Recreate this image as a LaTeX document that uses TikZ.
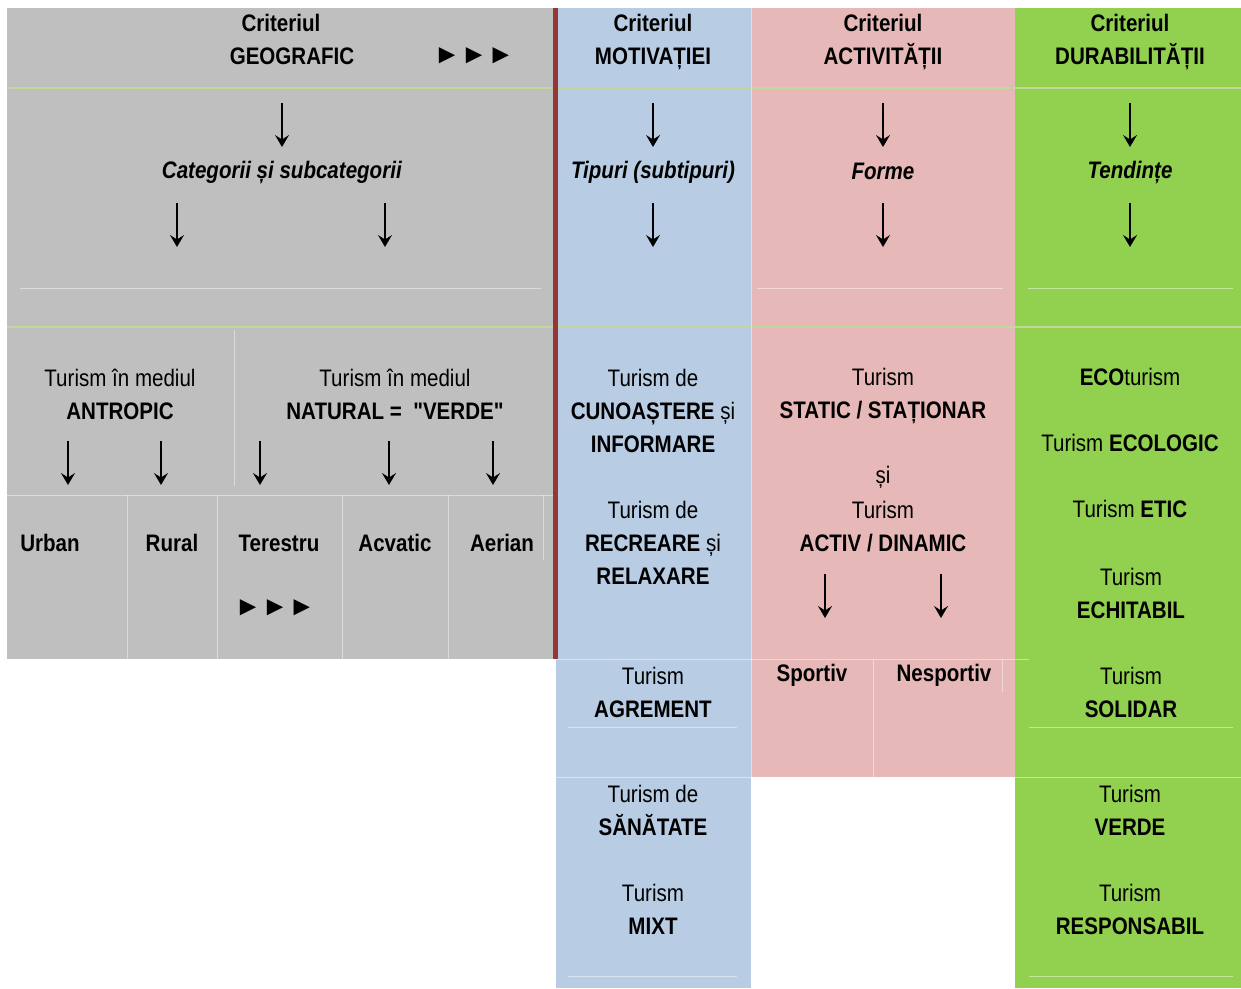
\documentclass[tikz,border=0pt]{standalone}
\usepackage{fontspec}
\setmainfont{Liberation Sans}[FakeStretch=0.86]
\newfontfamily\symfont{Liberation Sans}
\usepackage{xcolor}
\usetikzlibrary{arrows.meta,positioning}
\definecolor{geogray}{RGB}{191,191,191}
\definecolor{motblue}{RGB}{184,204,228}
\definecolor{actpink}{RGB}{230,184,183}
\definecolor{durgreen}{RGB}{146,208,80}
\definecolor{barred}{RGB}{149,55,53}
\definecolor{sepgreen}{RGB}{196,215,155}

\begin{document}
\begin{tikzpicture}[x=0.02cm,y=-0.02cm,
  lbl/.style={align=center,inner sep=0pt,font=\fontsize{13.6}{18.8}\selectfont},
  tri/.style={inner sep=0pt,font=\symfont\fontsize{15.5}{18}\selectfont},
  dn/.style={line width=0.9pt,-{Stealth[length=2.4mm,width=2.8mm,inset=0.9mm]}},
  sep/.style={draw=sepgreen,line width=1.5pt},
  faint/.style={draw=white,opacity=0.45,line width=0.5pt}]
\useasboundingbox (0,0) rectangle (1241,988);
% Columns
\fill[geogray] (7,8) rectangle (553,659); % geografic
\fill[motblue] (556,8) rectangle (751,988); % motivatiei
\fill[actpink] (751,8) rectangle (1015,777); % activitatii
\fill[durgreen] (1015,8) rectangle (1241,988); % durabilitatii
% Separators
\draw[sep] (7,88) -- (1241,88);
\draw[sep] (7,327) -- (1241,327);
\fill[barred] (553,8) rectangle (558,659); % vertical bar
% Faint cell lines
\draw[faint] (20,288) -- (541,288);
\draw[faint] (757,288) -- (1003,288);
\draw[faint] (1028,288) -- (1233,288);
\draw[faint] (234,330) -- (234,486);
\draw[faint] (7,495) -- (553,495);
\foreach \x in {127,217,342,448} \draw[faint] (\x,495) -- (\x,659);
\draw[faint] (543,495) -- (543,560);
\draw[faint] (751,8) -- (751,777);
\draw[faint] (556,659) -- (1029,659);
\draw[faint] (873,659) -- (873,777);
\draw[faint] (1002,659) -- (1002,692);
\draw[faint] (568,727) -- (737,727);
\draw[faint] (1029,727) -- (1233,727);
\draw[faint] (556,777) -- (751,777);
\draw[faint] (1015,777) -- (1241,777);
\draw[faint] (568,976) -- (737,976);
\draw[faint] (1029,976) -- (1233,976);
% Arrows
\foreach \n/\x/\y in {1/282/103,2/653/103,3/883/103,4/1130/103,
    5/177/203,6/385/203,7/653/203,8/883/203,9/1130/203,
    10/68/441,11/161/441,12/260/441,13/389/441,14/493/441,
    15/825/574,16/941/574}{
  \coordinate (a\n t) at (\x,\y);
  \coordinate (a\n b) at (\x,\y+44);
  \draw[dn] (a\n t) -- (a\n b);
}
% Headers
\node[lbl] (crgeo) at (281,23) {\textbf{Criteriul}};
\node[lbl] (geo) at (292,56) {\textbf{GEOGRAFIC}};
\node[tri] (geoarr) at (474,56) {►►►};
\node[lbl] (mot) at (653,42) {\textbf{Criteriul}\\\textbf{MOTIVAȚIEI}};
\node[lbl] (act) at (883,42) {\textbf{Criteriul}\\\textbf{ACTIVITĂȚII}};
\node[lbl] (dur) at (1130,42) {\textbf{Criteriul}\\\textbf{DURABILITĂȚII}};
% Subheaders
\node[lbl] (cat) at (282,172) {\textbf{\itshape Categorii și subcategorii}};
\node[lbl] (tip) at (653,172) {\textbf{\itshape Tipuri (subtipuri)}};
\node[lbl] (forme) at (883,171) {\textbf{\itshape Forme}};
\node[lbl] (tend) at (1130,172) {\textbf{\itshape Tendințe}};
% Geografic
\node[lbl] (antr) at (120,394) {Turism în mediul\\\textbf{ANTROPIC}};
\node[lbl] (nat) at (395,394) {Turism în mediul\\\textbf{NATURAL =~~{\addfontfeature{Ligatures=TeXOff}"VERDE"}}};
\node[lbl] (urban) at (50,543) {\textbf{Urban}};
\node[lbl] (rural) at (172,543) {\textbf{Rural}};
\node[lbl] (terestru) at (279,543) {\textbf{Terestru}};
\node[lbl] (acvatic) at (395,543) {\textbf{Acvatic}};
\node[lbl] (aerian) at (502,543) {\textbf{Aerian}};
\node[tri] (terarr) at (275,608) {►►►};
% Motivatiei
\node[lbl] (cun) at (653,411) {Turism de\\\textbf{CUNOAȘTERE} și\\\textbf{INFORMARE}};
\node[lbl] (recr) at (653,543) {Turism de\\\textbf{RECREARE} și\\\textbf{RELAXARE}};
\node[lbl] (agr) at (653,692) {Turism\\\textbf{AGREMENT}};
\node[lbl] (san) at (653,810) {Turism de\\\textbf{SĂNĂTATE}};
\node[lbl] (mixt) at (653,909) {Turism\\\textbf{MIXT}};
% Activitatii
\node[lbl] (stat) at (883,396) {Turism\\\textbf{STATIC / STAȚIONAR}};
\node[lbl] (si) at (883,477) {și};
\node[lbl] (activ) at (883,527) {Turism\\\textbf{ACTIV / DINAMIC}};
\node[lbl] (sport) at (812,675) {\textbf{Sportiv}};
\node[lbl] (nesport) at (944,675) {\textbf{Nesportiv}};
% Durabilitatii
\node[lbl] (eco) at (1130,377) {\textbf{ECO}turism};
\node[lbl] (ecol) at (1130,443) {Turism \textbf{ECOLOGIC}};
\node[lbl] (etic) at (1130,509) {Turism \textbf{ETIC}};
\node[lbl] (echit) at (1131,593) {Turism\\\textbf{ECHITABIL}};
\node[lbl] (solid) at (1131,692) {Turism\\\textbf{SOLIDAR}};
\node[lbl] (verde) at (1130,810) {Turism\\\textbf{VERDE}};
\node[lbl] (resp) at (1130,909) {Turism\\\textbf{RESPONSABIL}};
\end{tikzpicture}
\end{document}
